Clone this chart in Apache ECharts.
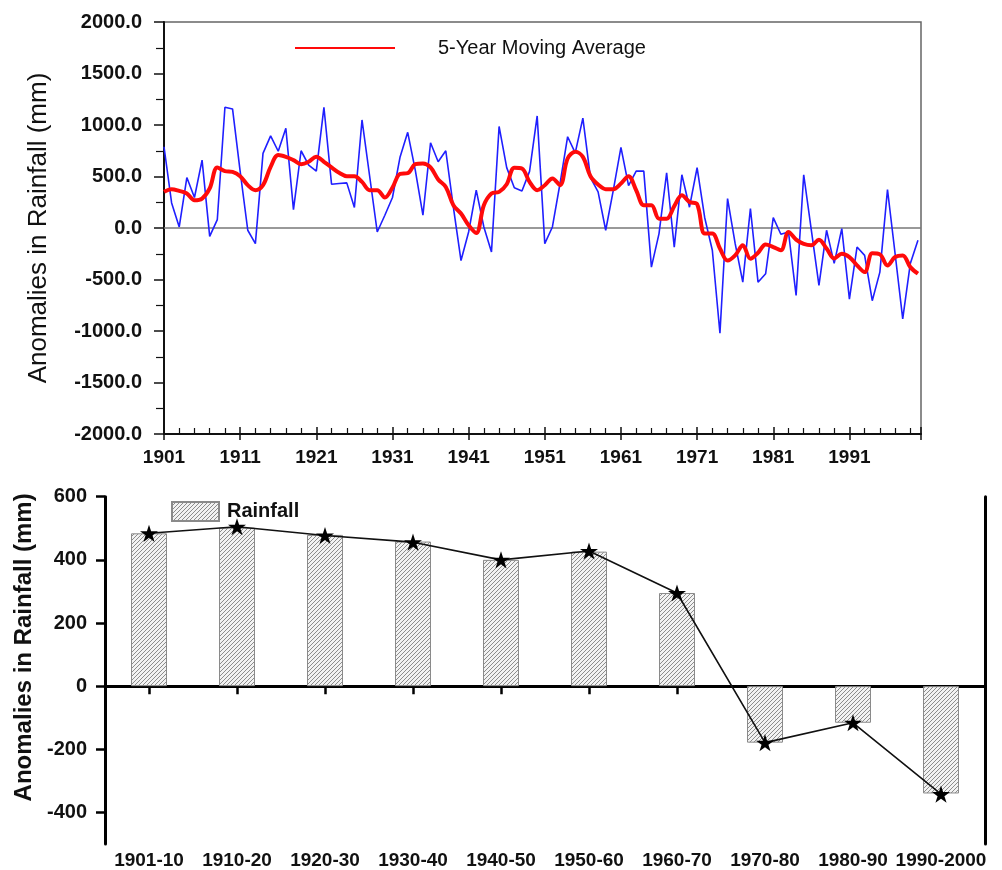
<!DOCTYPE html>
<html>
<head>
<meta charset="utf-8">
<script src="https://cdn.jsdelivr.net/npm/echarts@6/dist/echarts.min.js"></script>
<style>
html,body{margin:0;padding:0;background:#fff;}
#chart{width:1002px;height:870px;}
</style>
</head>
<body>
<div id="chart"></div>
<script>
// ---------- DATA ----------
const firstYear = 1901;
const annualAnomaly = [
  789, 243, 10, 490, 296, 659, -81, 82, 1172, 1156,
  550, -22, -152, 724, 894, 745, 968, 179, 750, 611,
  552, 1172, 425, 432, 438, 199, 1049, 505, -39, 124,
  296, 690, 929, 560, 124, 828, 643, 750, 200, -316,
  -39, 367, 10, -233, 986, 586, 390, 360, 550, 1088,
  -152, 10, 432, 886, 730, 1067, 490, 350, -22, 367,
  782, 412, 552, 552, -380, -54, 536, -185, 517, 202,
  585, 100, -216, -1022, 286, -152, -526, 189, -526, -444,
  101, -61, -39, -655, 517, -20, -558, -22, -344, -6,
  -690, -185, -266, -706, -428, 374, -250, -882, -344, -120
];
const movingAverage5 = [
  351, 377, 360, 335, 270, 286, 384, 588, 552, 545,
  503, 416, 367, 416, 594, 708, 691, 659, 620, 643,
  691, 643, 588, 536, 503, 503, 448, 367, 367, 296,
  393, 526, 532, 620, 627, 588, 471, 399, 221, 140,
  26, -49, 221, 335, 351, 425, 586, 578, 448, 367,
  415, 481, 416, 675, 740, 691, 503, 422, 377, 377,
  432, 503, 367, 221, 221, 91, 91, 213, 318, 253,
  231, -54, -54, -200, -316, -266, -168, -298, -240, -159,
  -185, -216, -39, -113, -155, -168, -113, -200, -295, -250,
  -282, -363, -428, -245, -256, -363, -282, -266, -380, -444
];
const decades = ['1901-10','1910-20','1920-30','1930-40','1940-50','1950-60','1960-70','1970-80','1980-90','1990-2000'];
const decadeBars = [484, 502, 479, 458, 400, 426, 295, -179, -116, -340];
const decadeStars = [484, 505, 477, 456, 400, 428, 295, -179, -116, -342];
const topYRange = [-2000, 2000, 500];
const bottomYRange = [-500, 600];
const bottomYTickValues = [-400, -200, 0, 200, 400, 600];

// ---------- BUILD ----------
const years = annualAnomaly.map((_, i) => firstYear + i);
const annualPairs = years.map((y, i) => [y, annualAnomaly[i]]);
const maPairs = years.map((y, i) => [y, movingAverage5[i]]);

function hatch() {
  const c = document.createElement('canvas');
  c.width = 4; c.height = 4;
  const g = c.getContext('2d');
  g.fillStyle = '#f2f2f2';
  g.fillRect(0, 0, 4, 4);
  g.strokeStyle = '#8c8c8c';
  g.lineWidth = 1;
  g.beginPath();
  g.moveTo(0, 4); g.lineTo(4, 0);
  g.moveTo(-1, 1); g.lineTo(1, -1);
  g.moveTo(3, 5); g.lineTo(5, 3);
  g.stroke();
  return c;
}
const hatchFill = { image: hatch(), repeat: 'repeat' };
const FONT = 'Liberation Sans, Arial, sans-serif';
const starPath = 'path://M0,-10L2.245,-3.09L9.51,-3.09L3.633,1.18L5.88,8.09L0,3.82L-5.88,8.09L-3.633,1.18L-9.51,-3.09L-2.245,-3.09Z';

const chart = echarts.init(document.getElementById('chart'), null, { renderer: 'canvas' });
chart.setOption({
  animation: false,
  backgroundColor: '#fff',
  textStyle: { fontFamily: FONT },
  legend: [
    {
      data: ['5-Year Moving Average'],
      left: 290, top: 33,
      icon: 'rect', itemWidth: 100, itemHeight: 2,
      textStyle: { fontFamily: FONT, fontSize: 20, color: '#111', padding: [0, 0, 0, 38] }
    },
    {
      data: ['Rainfall'],
      left: 166, top: 496,
      icon: 'rect', itemWidth: 47, itemHeight: 19,
      textStyle: { fontFamily: FONT, fontSize: 20, fontWeight: 'bold', color: '#111', padding: [0, 0, 0, 3] }
    }
  ],
  grid: [
    { left: 164, right: 81, top: 22, height: 412, show: true, borderColor: '#666', borderWidth: 1.5, backgroundColor: 'transparent' },
    { left: 105, right: 17, top: 496.7, height: 348.3 }
  ],
  xAxis: [
    {
      type: 'value', gridIndex: 0, min: firstYear, max: 2000.4, interval: 10, position: 'bottom',
      axisLine: { onZero: false, lineStyle: { color: '#111', width: 2 } },
      axisTick: { show: true, inside: true, length: 7, lineStyle: { color: '#111', width: 1.5 } },
      minorTick: { show: true, splitNumber: 5, length: 6, lineStyle: { color: '#111', width: 1.2 } },
      axisLabel: { showMaxLabel: false, margin: 14, fontSize: 19, fontWeight: 'bold', color: '#111', fontFamily: FONT,
        formatter: v => String(v) },
      splitLine: { show: false }
    },
    {
      type: 'value', gridIndex: 0, min: firstYear, max: 2000.4, interval: 10, position: 'bottom',
      axisLine: { show: false, onZero: false },
      axisTick: { show: true, inside: false, length: 6, lineStyle: { color: '#111', width: 1.5 } },
      axisLabel: { show: false },
      splitLine: { show: false }
    },
    {
      type: 'category', gridIndex: 1, data: decades,
      axisLine: { onZero: true, lineStyle: { color: '#000', width: 3 } },
      axisTick: { show: true, alignWithLabel: true, length: 8, lineStyle: { color: '#000', width: 2.5 } },
      axisLabel: { show: false }
    },
    {
      type: 'category', gridIndex: 1, data: decades, position: 'bottom',
      axisLine: { show: false, onZero: false },
      axisTick: { show: false },
      axisLabel: { margin: 7, fontSize: 19, fontWeight: 'bold', color: '#111', fontFamily: FONT, interval: 0 }
    }
  ],
  yAxis: [
    {
      type: 'value', gridIndex: 0, min: topYRange[0], max: topYRange[1], interval: topYRange[2],
      name: 'Anomalies in Rainfall (mm)', nameLocation: 'middle', nameGap: 112,
      nameTextStyle: { fontSize: 26, color: '#111', fontFamily: FONT },
      axisLine: { show: true, lineStyle: { color: '#111', width: 2 } },
      axisTick: { show: true, length: 10, lineStyle: { color: '#111', width: 1.5 } },
      minorTick: { show: true, splitNumber: 2, length: 8, lineStyle: { color: '#111', width: 1.2 } },
      axisLabel: { margin: 22, fontSize: 20, fontWeight: 'bold', color: '#111', fontFamily: FONT, formatter: v => v.toFixed(1) },
      splitLine: { show: false }
    },
    {
      type: 'value', gridIndex: 1, min: bottomYRange[0], max: bottomYRange[1],
      name: 'Anomalies in Rainfall (mm)', nameLocation: 'middle', nameGap: 69,
      nameTextStyle: { fontSize: 24, fontWeight: 'bold', color: '#111', fontFamily: FONT, padding: [0, 0, 0, 46] },
      axisLine: { show: true, lineStyle: { color: '#000', width: 3 } },
      axisTick: { show: true, length: 9, customValues: bottomYTickValues, lineStyle: { color: '#000', width: 2.5 } },
      axisLabel: { margin: 18, fontSize: 20, fontWeight: 'bold', color: '#111', fontFamily: FONT,
        customValues: bottomYTickValues, formatter: v => String(v) },
      splitLine: { show: false }
    },
    {
      type: 'value', gridIndex: 1, min: bottomYRange[0], max: bottomYRange[1], position: 'right',
      axisLine: { show: true, lineStyle: { color: '#000', width: 3 } },
      axisTick: { show: false }, axisLabel: { show: false }, splitLine: { show: false }
    }
  ],
  series: [
    {
      type: 'line', name: 'Annual', xAxisIndex: 0, yAxisIndex: 0, data: annualPairs,
      showSymbol: false, symbol: 'none',
      lineStyle: { color: '#1f1fff', width: 1.6 }, itemStyle: { color: '#1f1fff' },
      z: 3,
      markLine: {
        silent: true, symbol: 'none', label: { show: false },
        lineStyle: { color: '#777', width: 1.5, type: 'solid' },
        data: [{ yAxis: 0 }], z: 2
      }
    },
    {
      type: 'line', name: '5-Year Moving Average', xAxisIndex: 0, yAxisIndex: 0, data: maPairs,
      showSymbol: false, symbol: 'none', smooth: 0.35,
      lineStyle: { color: '#ff0a0a', width: 4 }, itemStyle: { color: '#ff0a0a' },
      z: 4
    },
    {
      type: 'bar', name: 'Rainfall', xAxisIndex: 2, yAxisIndex: 1, data: decadeBars,
      barWidth: 36,
      itemStyle: { color: hatchFill, borderColor: '#8a8a8a', borderWidth: 1 },
      z: 2
    },
    {
      type: 'line', name: 'Decadal', xAxisIndex: 2, yAxisIndex: 1, data: decadeStars,
      symbol: starPath, symbolSize: 18, symbolKeepAspect: true,
      lineStyle: { color: '#111', width: 1.6 }, itemStyle: { color: '#000' },
      z: 5
    }
  ]
});
</script>
</body>
</html>
